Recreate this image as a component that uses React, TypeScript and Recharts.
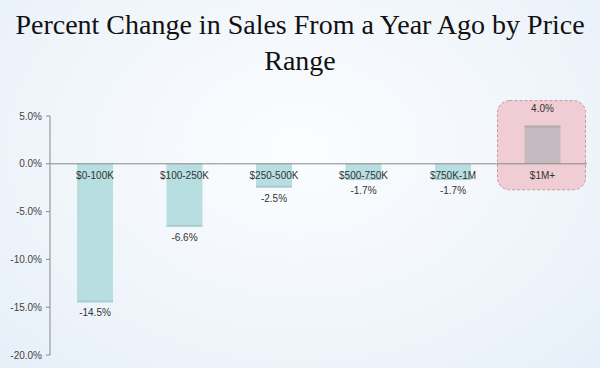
import { Bar, BarChart, Cell, LabelList, ReferenceLine, XAxis, YAxis } from "recharts";

const categories = ["$0-100K", "$100-250K", "$250-500K", "$500-750K", "$750K-1M", "$1M+"];
const changeValues = [-14.5, -6.6, -2.5, -1.7, -1.7, 4.0];
const highlighted = ["$1M+"];
const yTicks = [-20, -15, -10, -5, 0, 5];

const data = categories.map((name, i) => ({ name, value: changeValues[i] }));

const fmt = (v: number) => `${v.toFixed(1)}%`;

const BAR_COLOR = "#b7dee1";
const HIGHLIGHT_BAR = "#c3b9be";

function BarShape(props: any) {
  const { x, y, width, height, payload, fill } = props;
  const top = Math.min(y, y + height);
  const h = Math.abs(height);
  const isHi = highlighted.includes(payload.name);
  return (
    <g>
      {isHi && (
        <rect
          x={x - 27}
          y={top - 25}
          width={width + 52}
          height={h + 51}
          rx={12}
          fill="#f0c4cd"
          fillOpacity={0.85}
          stroke="#c797a3"
          strokeDasharray="3 2"
        />
      )}
      <rect x={x} y={top} width={width} height={h} fill={fill} />
      <rect
        x={x}
        y={payload.value < 0 ? top + h - 2 : top}
        width={width}
        height={2}
        fill="#000"
        fillOpacity={0.08}
      />
    </g>
  );
}

function ValueLabel(props: any) {
  const { x, y, width, height, value } = props;
  const lo = Math.max(y, y + height);
  const hi = Math.min(y, y + height);
  const ty = value < 0 ? lo + 14 : hi - 14;
  return (
    <text x={x + width / 2} y={ty} textAnchor="middle" fontSize={10} fill="#333" fontFamily="Liberation Sans, Arial, sans-serif">
      {fmt(value)}
    </text>
  );
}

function CategoryLabel(props: any) {
  const { x, y, width, height, value, index } = props;
  const v = changeValues[index];
  const zeroY = v < 0 ? Math.min(y, y + height) : Math.max(y, y + height);
  return (
    <text x={x + width / 2} y={zeroY + 15} textAnchor="middle" fontSize={10} fill="#333" fontFamily="Liberation Sans, Arial, sans-serif">
      {value}
    </text>
  );
}

function BoundaryTick(props: any) {
  const { x, index } = props;
  // small tick marks on the zero line between categories
  const band = 537 / 6;
  const zeroY = 116 + (5 / 25) * 239;
  if (index === 0) return null;
  return <line x1={x - band / 2} x2={x - band / 2} y1={zeroY} y2={zeroY + 3} stroke="#888" />;
}

export default function App() {
  return (
    <div
      style={{
        position: "absolute",
        left: 0,
        top: 0,
        width: 600,
        height: 368,
        background: "radial-gradient(ellipse at 50% 40%, #fbfdff 0%, #f1f6fb 55%, #e6eff8 100%)",
      }}
    >
      <div
        style={{
          position: "absolute",
          left: 0,
          top: 7,
          width: 600,
          textAlign: "center",
          fontFamily: "Liberation Serif, Times New Roman, serif",
          fontSize: 28,
          lineHeight: "36px",
          color: "#111",
        }}
      >
        Percent Change in Sales From a Year Ago by Price
        <br />
        Range
      </div>
      <BarChart
        width={600}
        height={368}
        data={data}
        margin={{ top: 116, right: 13, bottom: 13, left: 0 }}
        barSize={36}
        style={{ position: "absolute", left: 0, top: 0 }}
      >
        <XAxis dataKey="name" axisLine={false} tickLine={false} height={0} tick={<BoundaryTick />} />
        <YAxis
          type="number"
          domain={[-20, 5]}
          ticks={yTicks}
          width={50}
          stroke="#888"
          tickSize={4}
          tickMargin={4}
          tick={{ fill: "#444", fontSize: 10, fontFamily: "Liberation Sans, Arial, sans-serif" }}
          tickFormatter={(v: number) => fmt(v)}
        />
        <ReferenceLine y={0} stroke="#888" />
        <Bar dataKey="value" isAnimationActive={false} shape={<BarShape />}>
          {data.map((d) => (
            <Cell key={d.name} fill={highlighted.includes(d.name) ? HIGHLIGHT_BAR : BAR_COLOR} />
          ))}
          <LabelList dataKey="value" content={<ValueLabel />} />
          <LabelList dataKey="name" content={<CategoryLabel />} />
        </Bar>
      </BarChart>
    </div>
  );
}
